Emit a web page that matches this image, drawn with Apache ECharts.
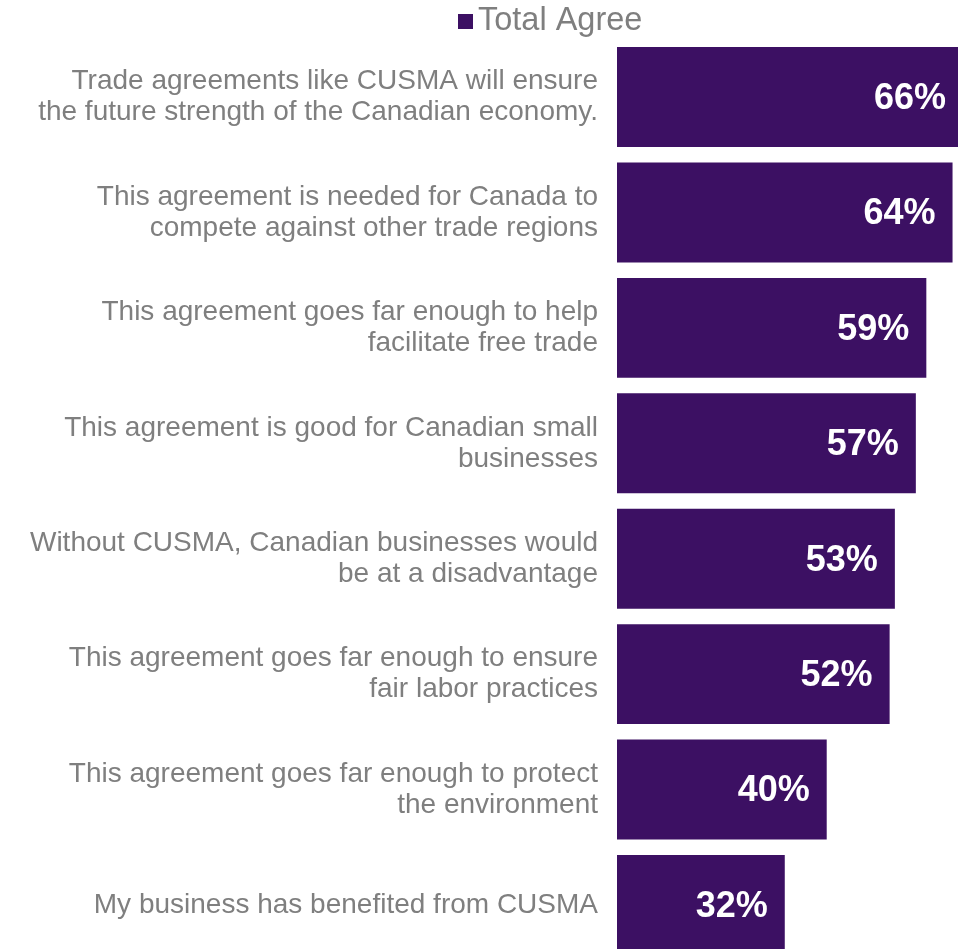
<!DOCTYPE html>
<html>
<head>
<meta charset="utf-8">
<title>Total Agree</title>
<script src="https://cdn.jsdelivr.net/npm/echarts@6/dist/echarts.min.js"></script>
<style>
  html, body { margin: 0; padding: 0; background: #ffffff; }
  #chart { width: 958px; height: 949px; }
</style>
</head>
<body>
<div id="chart"></div>
<script>
// Statements (top to bottom) and share of respondents who agree
const categories = [
  'Trade agreements like CUSMA will ensure\nthe future strength of the Canadian economy.',
  'This agreement is needed for Canada to\ncompete against other trade regions',
  'This agreement goes far enough to help\nfacilitate free trade',
  'This agreement is good for Canadian small\nbusinesses',
  'Without CUSMA, Canadian businesses would\nbe at a disadvantage',
  'This agreement goes far enough to ensure\nfair labor practices',
  'This agreement goes far enough to protect\nthe environment',
  'My business has benefited from CUSMA'
];
const totalAgree = [66, 64, 59, 57, 53, 52, 40, 32];
const seriesName = 'Total Agree';

const FONT = '"Liberation Sans", Arial, sans-serif';
const BAR = '#3c1063';

const chart = echarts.init(document.getElementById('chart'), null, { renderer: 'canvas' });
chart.setOption({
  animation: false,
  backgroundColor: '#ffffff',
  legend: {
    data: [seriesName],
    left: 453,
    top: 0,
    icon: 'rect',
    itemWidth: 15,
    itemHeight: 15,
    itemGap: 10,
    textStyle: { color: '#7f7f7f', fontSize: 32.5, fontFamily: FONT, padding: 0 }
  },
  // the plot area runs past the right and bottom edges of the canvas
  grid: { left: 617, top: 39.3, width: 367, height: 923.4, outerBoundsMode: 'none', containLabel: false },
  xAxis: {
    type: 'value',
    min: 0,
    max: 70,
    show: false
  },
  yAxis: {
    type: 'category',
    data: categories,
    inverse: true,
    axisLine: { show: false },
    axisTick: { show: false },
    splitLine: { show: false },
    axisLabel: {
      margin: 19,
      color: '#7f7f7f',
      fontSize: 28,
      lineHeight: 31,
      fontFamily: FONT,
      align: 'right'
    }
  },
  series: [{
    name: seriesName,
    type: 'bar',
    data: totalAgree,
    barCategoryGap: '13.4%',
    itemStyle: { color: BAR },
    label: {
      show: true,
      position: 'insideRight',
      distance: 17,
      offset: [0, 2],
      formatter: p => p.value + '%',
      color: '#ffffff',
      fontSize: 36,
      fontWeight: 'bold',
      fontFamily: FONT
    }
  }]
});
</script>
</body>
</html>
